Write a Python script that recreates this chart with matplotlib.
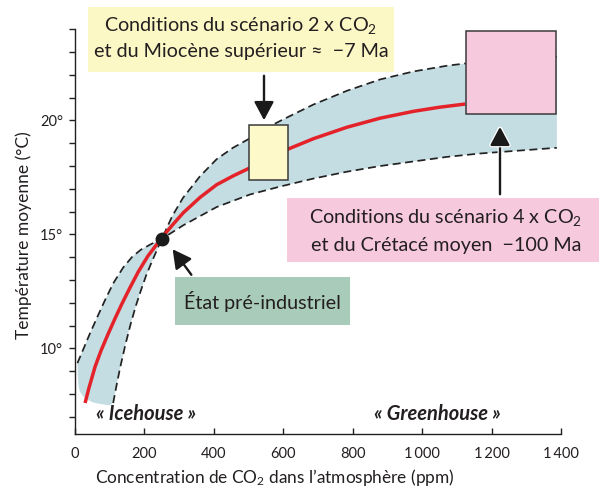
import matplotlib
matplotlib.use('Agg')
import matplotlib.pyplot as plt
from matplotlib.patches import Rectangle, FancyArrowPatch
import matplotlib.patheffects as pe

FONT = ['Lato', 'DejaVu Sans']
plt.rcParams['font.family'] = FONT
plt.rcParams['mathtext.fontset'] = 'custom'
plt.rcParams['mathtext.rm'] = 'Lato'
plt.rcParams['mathtext.it'] = 'Lato:italic'
plt.rcParams['mathtext.bf'] = 'Lato:bold'

# ---------------- data (ppm, °C) ----------------
# central estimate (red)
red_ppm = [29, 40, 58, 75, 96, 115, 135, 158, 182, 210, 250, 280, 312, 360, 408, 456,
           504, 560, 615, 687, 783, 879, 975, 1050, 1124]
red_T = [7.6, 8.25, 9.2, 9.9, 10.65, 11.3, 11.95, 12.65, 13.35, 14.05, 14.85, 15.4, 15.95,
         16.62, 17.18, 17.57, 17.92, 18.35, 18.75, 19.2, 19.7, 20.1, 20.4, 20.58, 20.72]

# dashed bound: warm branch at low CO2, lower branch at high CO2
low_sens_ppm = [7, 25, 43, 65, 86, 110, 139, 165, 190, 220, 250, 312, 408, 504, 591, 687,
                783, 879, 975, 1071, 1167, 1388]
low_sens_T = [9.35, 10.0, 10.65, 11.4, 12.1, 12.85, 13.55, 14.02, 14.33, 14.58, 14.8, 15.4,
              16.2, 16.75, 17.1, 17.45, 17.75, 18.0, 18.2, 18.4, 18.55, 18.8]

# dashed bound: cold branch at low CO2, upper branch at high CO2
high_sens_ppm = [110, 120, 130, 145, 160, 175, 190, 205, 220, 235, 250, 280, 311, 360, 408,
                 455, 502, 562, 600, 687, 783, 879, 975, 1071, 1124, 1388]
high_sens_T = [7.6, 8.4, 9.15, 10.15, 11.05, 11.85, 12.55, 13.2, 13.75, 14.28, 14.8, 15.8,
               16.6, 17.55, 18.3, 18.8, 19.2, 19.75, 20.05, 20.7, 21.3, 21.8, 22.15, 22.4,
               22.5, 22.8]

# closing of the shaded envelope at low CO2
blob_ppm = [110, 101, 75, 53, 35, 24, 14, 10, 8, 7]
blob_T = [7.6, 7.5, 7.55, 7.62, 7.75, 7.88, 8.1, 8.35, 8.8, 9.35]

# pre-industrial state
pre_ppm, pre_T = 250, 14.8

# scenario boxes: (ppm min, ppm max, T min, T max)
scen_2x = (502, 614, 17.4, 19.78)
scen_4x = (1125, 1387, 20.29, 23.93)

x_ticks = [0, 200, 400, 600, 800, 1000, 1200, 1400]
x_ticklabels = ['0', '200', '400', '600', '800', '1\u2009000', '1\u2009200', '1\u2009400']
y_major = [10, 15, 20]
y_ticklabels = ['10°', '15°', '20°']
y_minor = list(range(7, 25))

# ---------------- figure ----------------
W, H = 603, 490
fig = plt.figure(figsize=(W / 100, H / 100), dpi=100)


def fx(x):
    return x / W


def fy(y):
    return 1 - y / H


ax = fig.add_axes([fx(75), fy(434), (561 - 75) / W, (434 - 29.3) / H])
ax.set_xlim(0, 1400)
ax.set_ylim(6.24, 24)

TXT = '#231f20'
FILL = '#c4dde3'

# envelope
i_low = low_sens_ppm.index(pre_ppm)
i_high = high_sens_ppm.index(pre_ppm)
upper_x = low_sens_ppm[:i_low] + high_sens_ppm[i_high:]
upper_y = low_sens_T[:i_low] + high_sens_T[i_high:]
lower_x = low_sens_ppm[i_low:][::-1] + high_sens_ppm[:i_high][::-1]
lower_y = low_sens_T[i_low:][::-1] + high_sens_T[:i_high][::-1]
ax.fill(upper_x + lower_x + blob_ppm[1:], upper_y + lower_y + blob_T[1:],
        color=FILL, lw=0, zorder=1)

ax.plot(low_sens_ppm, low_sens_T, color='#222222', lw=1.25, dashes=(4.6, 2.6), zorder=2)
ax.plot(high_sens_ppm, high_sens_T, color='#222222', lw=1.25, dashes=(4.6, 2.6), zorder=2)
ax.plot(red_ppm, red_T, color='#e4222a', lw=2.5, solid_capstyle='butt',
        solid_joinstyle='round', zorder=3)
ax.plot([pre_ppm], [pre_T], 'o', color='#1a1a1a', ms=9, zorder=5)

for (x0, x1, t0, t1), col in [(scen_2x, '#fdf9c9'), (scen_4x, '#f7c9dd')]:
    ax.add_patch(Rectangle((x0, t0), x1 - x0, t1 - t0, facecolor=col,
                           edgecolor='#3a3a3a', lw=1.1, zorder=6))

# axes styling
for s in ['top', 'right']:
    ax.spines[s].set_visible(False)
for s in ['left', 'bottom']:
    ax.spines[s].set_color(TXT)
    ax.spines[s].set_linewidth(1.0)
ax.set_xticks(x_ticks)
ax.set_xticklabels(x_ticklabels)
ax.tick_params(axis='x', direction='in', length=4, width=1.0, color=TXT,
               labelsize=10.5, labelcolor=TXT, pad=9)
ax.set_yticks(y_major)
ax.set_yticklabels(y_ticklabels)
ax.set_yticks(y_minor, minor=True)
ax.tick_params(axis='y', which='both', direction='out', length=4.5, width=1.0,
               color=TXT, labelsize=10.5, labelcolor=TXT, pad=4)

fig.text(fx(275), fy(477), "Concentration de CO$_2$ dans l\u2019atmosphère (ppm)",
         ha='center', va='center', fontsize=12.4, color=TXT)
fig.text(fx(24), fy(235), "Température moyenne (°C)", rotation=90,
         ha='center', va='center', fontsize=12.5, color=TXT)

fig.text(fx(146), fy(414), '« Icehouse »', ha='center', va='center',
         fontsize=14.5, color=TXT, fontweight='bold', fontstyle='italic')
fig.text(fx(437), fy(414), '« Greenhouse »', ha='center', va='center',
         fontsize=14.5, color=TXT, fontweight='bold', fontstyle='italic')


def label_box(x0, y0, x1, y1, color):
    fig.patches.append(Rectangle((fx(x0), fy(y1)), (x1 - x0) / W, (y1 - y0) / H,
                                 transform=fig.transFigure, facecolor=color,
                                 edgecolor='none', zorder=7))


LBL = 14.2
label_box(88, 7, 394, 72, '#fcf8c6')
fig.text(fx(241), fy(26), "Conditions du scénario 2 x CO$_2$", ha='center', va='center',
         fontsize=LBL, color=TXT, zorder=8)
fig.text(fx(241), fy(52), "et du Miocène supérieur \u2248  \u22127 Ma", ha='center',
         va='center', fontsize=LBL, color=TXT, zorder=8)

label_box(287, 198, 599, 262, '#f7c9dd')
fig.text(fx(446), fy(217), "Conditions du scénario 4 x CO$_2$", ha='center', va='center',
         fontsize=LBL, color=TXT, zorder=8)
fig.text(fx(446), fy(245), "et du Crétacé moyen  \u2212100 Ma", ha='center', va='center',
         fontsize=LBL, color=TXT, zorder=8)

label_box(175, 277, 350, 325, '#a9cbb9')
fig.text(fx(262), fy(302), "État pré-industriel", ha='center', va='center',
         fontsize=LBL, color=TXT, zorder=8)

arrow_kw = dict(arrowstyle='-|>,head_length=0.75,head_width=0.4', color='#1a1a1a', lw=1.7)
fig.add_artist(FancyArrowPatch(
    (fx(264), fy(73)), (fx(264), fy(123)), transform=fig.transFigure,
    mutation_scale=15, zorder=9, **arrow_kw))
a2 = FancyArrowPatch(
    (fx(500), fy(197)), (fx(500), fy(124)), transform=fig.transFigure,
    mutation_scale=15, zorder=9, **arrow_kw)
a2.set_path_effects([pe.Stroke(linewidth=3.5, foreground='white'), pe.Normal()])
fig.add_artist(a2)
fig.add_artist(FancyArrowPatch(
    (fx(193), fy(277)), (fx(171), fy(247)), transform=fig.transFigure,
    mutation_scale=15, zorder=9, **arrow_kw))

fig.savefig('out.png', dpi=100)
